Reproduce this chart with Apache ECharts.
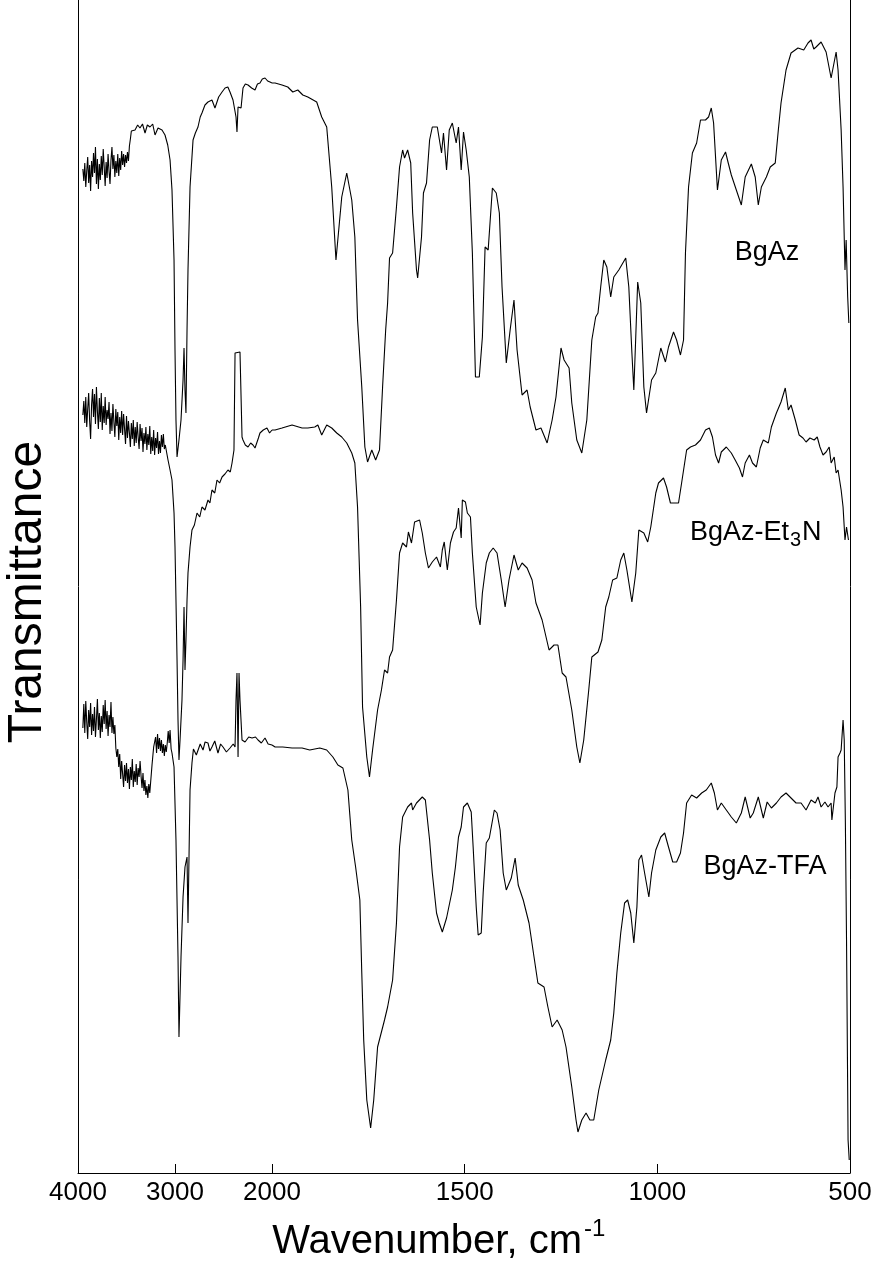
<!DOCTYPE html>
<html><head><meta charset="utf-8">
<script src="https://cdn.jsdelivr.net/npm/echarts@6/dist/echarts.min.js"></script>
<style>html,body{margin:0;padding:0;background:#fff}#c{width:880px;height:1274px}</style>
</head><body><div id="c"></div><script>
// Tick labels for the two x-axis segments (scale changes at 2000 cm-1)
const xTicksHigh = [4000, 3000, 2000];
const xTicksLow = [1500, 1000, 500];
const seriesNames = ['BgAz', 'BgAz-Et3N', 'BgAz-TFA'];

// [wavenumber (cm-1), transmittance (arb., offset traces)]
const bgazHigh = [[3950,100.4],[3940,99.2],[3930,101.0],[3920,98.6],[3910,100.2],[3900,101.6],[3890,99.0],[3880,100.8],[3870,98.2],[3860,101.2],[3850,99.6],[3840,102.0],[3830,100.0],[3820,102.6],[3810,98.9],[3800,101.4],[3790,98.4],[3780,100.9],[3770,99.3],[3760,101.7],[3750,99.8],[3740,102.4],[3730,100.6],[3720,98.7],[3710,101.1],[3700,99.5],[3690,101.9],[3680,100.2],[3670,98.9],[3660,101.3],[3650,102.6],[3640,100.4],[3630,101.8],[3620,99.6],[3610,101.2],[3600,100.0],[3590,101.9],[3580,99.7],[3570,101.5],[3560,100.3],[3550,102.2],[3540,100.8],[3530,101.9],[3520,100.6],[3510,101.8],[3500,101.0],[3490,102.1],[3480,101.2],[3470,102.7],[3460,103.4],[3450,104.2],[3412,104.3],[3385,104.8],[3361,104.5],[3335,104.9],[3309,104.0],[3285,104.8],[3258,104.6],[3230,104.9],[3206,103.8],[3175,104.5],[3134,104.3],[3103,103.8],[3075,102.8],[3051,101.3],[3031,98.3],[3010,91.3],[3000,82.3],[2990,75.3],[2979,71.6],[2959,73.3],[2938,75.3],[2917,79.3],[2907,82.5],[2897,78.3],[2887,76.0],[2876,84.3],[2866,90.3],[2845,98.6],[2814,103.3],[2790,104.0],[2763,104.6],[2740,105.6],[2722,106.0],[2691,106.8],[2660,107.1],[2619,107.3],[2588,106.5],[2550,107.6],[2515,108.1],[2484,108.5],[2455,108.6],[2433,108.1],[2402,107.3],[2371,105.6],[2361,104.1],[2350,106.6],[2319,106.5],[2299,108.5],[2275,108.9],[2247,108.8],[2210,108.5],[2175,108.3],[2150,108.9],[2124,109.0],[2100,109.4],[2072,109.5],[2045,109.2],[2021,109.1],[2000,109.0]];
const bgazLow = [[2000,109.0],[1992,109.0],[1974,108.8],[1959,108.6],[1946,108.1],[1933,108.3],[1920,107.8],[1907,107.6],[1884,107.1],[1871,105.6],[1858,104.6],[1845,98.6],[1834,91.3],[1819,97.6],[1806,100.0],[1793,97.3],[1785,93.6],[1778,85.3],[1767,78.6],[1759,72.6],[1752,71.1],[1741,72.3],[1731,71.3],[1721,72.3],[1713,78.6],[1705,84.3],[1700,87.0],[1695,91.5],[1687,92.0],[1677,96.6],[1669,100.6],[1661,102.3],[1656,101.5],[1648,102.3],[1640,101.0],[1635,96.0],[1625,90.3],[1622,89.5],[1612,93.6],[1607,98.0],[1599,99.0],[1591,103.3],[1584,104.6],[1571,104.6],[1560,102.0],[1555,104.0],[1547,100.3],[1540,104.3],[1532,105.0],[1522,103.0],[1516,104.6],[1509,100.3],[1503,104.1],[1496,102.3],[1488,99.6],[1480,92.0],[1472,79.6],[1462,79.6],[1454,83.6],[1447,92.6],[1439,92.3],[1428,98.5],[1418,98.0],[1410,96.0],[1403,88.6],[1392,81.0],[1382,84.3],[1372,87.3],[1364,82.3],[1351,77.8],[1338,78.3],[1330,76.6],[1315,74.3],[1302,74.5],[1286,73.0],[1273,75.3],[1263,77.6],[1250,82.5],[1242,81.3],[1229,80.5],[1222,77.0],[1209,73.3],[1196,72.0],[1183,75.3],[1170,83.3],[1160,85.6],[1154,86.0],[1147,88.6],[1139,91.3],[1131,90.6],[1121,87.6],[1113,89.6],[1100,90.3],[1082,91.5],[1074,88.6],[1066,82.0],[1061,78.3],[1056,83.6],[1051,89.1],[1043,87.0],[1035,78.6],[1028,76.0],[1015,79.3],[1004,80.0],[991,82.5],[979,81.1],[971,82.6],[958,84.1],[950,83.3],[940,81.8],[932,83.3],[927,92.0],[919,98.6],[909,102.0],[898,103.0],[888,105.3],[875,105.3],[867,105.6],[860,106.5],[854,105.0],[844,98.3],[834,101.3],[823,102.1],[816,101.0],[808,99.8],[795,98.3],[782,96.8],[772,99.6],[756,100.9],[746,99.6],[738,96.8],[730,98.6],[717,99.6],[707,100.6],[694,101.0],[686,104.3],[679,107.0],[666,110.3],[653,112.0],[635,112.5],[620,112.3],[609,113.0],[601,113.3],[594,112.4],[588,112.6],[575,113.1],[562,112.1],[549,109.5],[536,112.1],[531,110.3],[523,104.3],[518,98.6],[513,90.3],[510,93.3],[506,87.6],[503,85.0]];

const et3nHigh = [[3950,75.8],[3940,77.2],[3930,75.0],[3920,77.6],[3910,74.6],[3900,76.4],[3890,78.0],[3880,75.2],[3870,73.4],[3860,76.8],[3850,78.4],[3840,75.6],[3830,77.9],[3820,74.9],[3810,78.6],[3800,76.2],[3790,74.4],[3780,77.5],[3770,75.1],[3760,78.0],[3750,74.3],[3740,76.7],[3730,75.0],[3720,77.6],[3710,74.8],[3700,76.3],[3690,75.4],[3680,77.1],[3670,73.9],[3660,76.0],[3650,74.2],[3640,76.9],[3630,75.1],[3620,73.6],[3610,76.4],[3600,74.7],[3590,76.1],[3580,73.3],[3570,75.6],[3560,74.0],[3550,76.2],[3540,73.8],[3530,75.9],[3520,74.4],[3510,72.9],[3500,75.7],[3490,73.5],[3480,75.2],[3470,74.0],[3460,72.6],[3450,75.0],[3440,73.4],[3430,75.3],[3420,72.7],[3410,74.6],[3400,73.0],[3390,75.1],[3380,73.6],[3370,72.4],[3360,74.9],[3350,73.2],[3340,74.5],[3330,72.1],[3320,74.0],[3310,72.9],[3300,74.6],[3290,72.3],[3280,73.9],[3270,72.8],[3260,74.7],[3250,71.9],[3240,73.6],[3230,72.2],[3220,74.3],[3210,71.8],[3200,73.5],[3190,72.5],[3180,74.1],[3170,71.9],[3160,73.2],[3150,72.0],[3140,73.8],[3130,72.6],[3120,73.9],[3110,72.4],[3100,72.8],[3072,71.3],[3051,70.3],[3031,69.3],[3010,66.0],[3000,62.6],[2990,57.3],[2979,51.3],[2969,45.3],[2959,41.3],[2948,43.3],[2938,45.3],[2928,47.3],[2917,51.3],[2907,56.6],[2897,50.3],[2887,53.3],[2876,57.3],[2866,60.0],[2845,62.6],[2825,64.3],[2800,64.8],[2773,66.0],[2745,65.6],[2722,66.6],[2691,66.3],[2660,67.3],[2640,67.0],[2619,68.3],[2590,68.0],[2567,69.3],[2540,69.0],[2515,69.6],[2485,69.9],[2454,70.3],[2430,70.1],[2412,71.0],[2392,72.3],[2381,82.0],[2330,82.1],[2309,73.6],[2299,73.3],[2275,72.8],[2247,72.6],[2220,73.0],[2196,72.8],[2175,72.5],[2155,72.3],[2140,73.5],[2124,74.0],[2090,74.3],[2052,74.5],[2025,74.0],[2000,74.3]];
const et3nLow = [[2000,74.3],[1992,74.3],[1974,74.5],[1948,74.8],[1922,74.5],[1907,74.5],[1889,74.6],[1881,74.8],[1871,73.8],[1858,74.8],[1845,74.5],[1832,74.0],[1819,73.6],[1806,73.0],[1793,72.0],[1785,71.0],[1778,66.6],[1770,56.6],[1765,46.6],[1754,41.6],[1747,39.6],[1739,42.3],[1726,46.3],[1716,48.3],[1708,50.3],[1700,50.0],[1695,51.6],[1687,52.3],[1677,57.3],[1669,62.0],[1661,63.0],[1651,62.6],[1646,64.1],[1638,63.0],[1630,65.1],[1617,65.3],[1610,64.0],[1602,62.0],[1594,60.5],[1584,61.1],[1573,61.6],[1563,60.6],[1558,62.3],[1553,63.1],[1545,60.3],[1537,63.0],[1529,64.1],[1522,64.5],[1516,66.5],[1509,63.5],[1506,67.3],[1498,67.1],[1493,66.0],[1485,65.6],[1480,62.0],[1470,56.6],[1460,54.8],[1454,58.0],[1444,61.0],[1436,62.0],[1426,62.5],[1416,62.0],[1405,59.3],[1395,56.6],[1385,59.3],[1372,61.8],[1361,60.3],[1351,61.0],[1338,60.5],[1325,59.3],[1315,57.0],[1299,55.3],[1281,52.3],[1268,52.8],[1258,52.8],[1247,50.0],[1237,49.6],[1222,46.3],[1209,42.6],[1201,41.0],[1191,43.3],[1178,48.3],[1170,51.6],[1154,52.1],[1144,53.3],[1134,56.6],[1126,57.6],[1116,59.3],[1105,59.5],[1095,61.3],[1087,62.0],[1079,60.3],[1066,57.1],[1056,60.0],[1048,64.3],[1035,64.0],[1025,63.1],[1017,64.6],[1004,68.0],[997,69.0],[984,69.5],[976,68.6],[966,67.0],[945,67.0],[937,69.0],[924,72.3],[914,72.6],[901,72.8],[888,73.3],[875,74.3],[865,74.5],[857,73.6],[849,71.8],[841,71.0],[834,72.1],[821,72.6],[808,72.0],[798,71.3],[787,70.5],[779,69.6],[772,71.0],[761,71.8],[753,71.0],[743,70.6],[733,72.5],[725,73.3],[712,73.0],[704,74.6],[691,76.0],[679,77.1],[668,78.5],[660,76.3],[653,76.8],[642,75.3],[632,73.8],[622,73.5],[614,73.1],[604,73.5],[593,73.3],[585,73.6],[578,72.6],[570,71.8],[562,72.1],[554,72.6],[549,71.0],[541,71.6],[536,70.0],[531,70.3],[523,68.3],[518,66.6],[513,63.3],[509,64.6],[504,63.3]];

const tfaHigh = [[3950,44.5],[3940,46.9],[3930,44.0],[3920,47.2],[3910,45.1],[3900,43.4],[3890,46.3],[3880,44.6],[3870,47.0],[3860,43.8],[3850,45.9],[3840,44.2],[3830,46.6],[3820,43.6],[3810,45.4],[3800,47.4],[3790,44.3],[3780,46.0],[3770,43.5],[3760,45.7],[3750,44.1],[3740,46.8],[3730,44.9],[3720,47.3],[3710,44.4],[3700,46.2],[3690,43.7],[3680,45.8],[3670,44.6],[3660,47.1],[3650,44.0],[3640,45.6],[3630,43.9],[3620,44.8],[3610,42.5],[3600,41.6],[3590,42.4],[3580,40.6],[3570,41.9],[3560,39.4],[3550,41.2],[3540,39.9],[3530,38.6],[3520,40.8],[3510,39.2],[3500,41.0],[3490,39.0],[3480,40.4],[3470,38.4],[3460,40.6],[3450,39.3],[3440,41.4],[3430,38.6],[3420,40.2],[3410,39.1],[3400,40.9],[3390,38.8],[3380,40.5],[3370,39.6],[3360,41.2],[3350,39.7],[3340,38.5],[3330,40.0],[3320,38.2],[3310,39.3],[3300,37.8],[3290,38.7],[3280,37.5],[3270,38.9],[3260,38.0],[3237,40.8],[3220,42.6],[3200,43.6],[3190,42.0],[3180,43.9],[3170,42.4],[3160,43.5],[3150,42.2],[3140,43.3],[3130,42.0],[3120,42.9],[3110,41.7],[3100,42.8],[3090,42.1],[3080,43.0],[3070,44.2],[3060,43.0],[3051,44.3],[3040,42.4],[3031,42.0],[3010,40.6],[2990,33.3],[2969,21.6],[2959,13.6],[2938,21.6],[2917,27.6],[2897,30.6],[2876,31.6],[2866,25.0],[2845,38.3],[2825,41.0],[2810,42.4],[2794,42.6],[2780,41.8],[2763,42.0],[2740,42.9],[2711,42.3],[2690,43.1],[2660,43.0],[2640,42.2],[2619,42.6],[2590,43.2],[2557,42.0],[2530,42.9],[2505,42.6],[2470,42.1],[2433,42.5],[2400,42.9],[2381,42.6],[2371,47.3],[2361,50.0],[2350,41.6],[2340,50.0],[2330,47.3],[2309,43.3],[2278,43.1],[2240,43.6],[2206,43.5],[2170,43.6],[2144,43.3],[2110,43.0],[2072,43.5],[2040,42.9],[2000,42.8]];
const tfaLow = [[2000,42.8],[1992,42.6],[1972,42.6],[1948,42.5],[1922,42.5],[1902,42.3],[1876,42.5],[1858,42.3],[1842,41.6],[1829,40.8],[1816,40.5],[1803,38.3],[1793,33.3],[1783,30.6],[1772,27.3],[1767,20.0],[1762,13.3],[1754,7.3],[1744,4.5],[1736,7.3],[1726,12.6],[1708,15.3],[1700,16.6],[1687,19.3],[1677,25.0],[1669,32.6],[1661,35.6],[1648,36.6],[1638,37.0],[1635,36.3],[1625,37.0],[1610,37.6],[1602,37.3],[1591,33.3],[1584,30.0],[1573,26.0],[1566,25.0],[1558,24.1],[1547,25.5],[1542,25.3],[1532,28.3],[1524,30.6],[1516,33.6],[1509,34.6],[1503,36.6],[1493,37.0],[1483,36.1],[1478,32.6],[1470,26.6],[1465,23.8],[1457,24.0],[1452,28.0],[1444,33.0],[1436,33.5],[1423,36.3],[1416,36.0],[1408,34.3],[1400,30.0],[1392,28.3],[1379,29.5],[1369,31.5],[1361,28.8],[1348,27.3],[1333,25.0],[1320,21.6],[1310,19.0],[1294,18.6],[1284,16.6],[1273,14.6],[1260,15.3],[1247,14.3],[1237,12.6],[1222,8.6],[1211,5.3],[1206,4.1],[1196,5.3],[1185,6.0],[1175,5.3],[1165,5.3],[1152,8.3],[1134,11.3],[1121,13.3],[1113,16.0],[1105,20.0],[1095,24.0],[1085,27.0],[1077,27.3],[1069,26.0],[1061,23.0],[1053,26.6],[1048,31.3],[1041,31.8],[1033,30.0],[1022,27.6],[1015,30.0],[1004,32.3],[991,33.6],[981,34.0],[971,32.6],[960,31.1],[950,31.1],[940,32.0],[932,34.0],[924,37.0],[911,37.8],[898,37.5],[885,38.0],[873,38.3],[860,39.0],[852,38.0],[844,36.3],[834,37.0],[821,36.3],[808,35.6],[795,35.0],[782,36.0],[772,37.6],[759,35.5],[751,36.0],[738,37.6],[725,35.5],[715,37.1],[704,36.5],[691,37.0],[679,37.6],[666,38.0],[653,37.5],[640,37.0],[627,37.0],[614,36.3],[601,37.3],[590,37.0],[583,37.6],[575,36.6],[565,37.1],[557,36.6],[549,37.0],[547,35.3],[539,38.0],[534,38.6],[531,41.6],[526,42.0],[523,42.3],[518,45.3],[515,43.3],[512,35.0],[509,23.3],[505,3.3],[502,1.3]];

const font = '"Liberation Sans", Arial, Helvetica, sans-serif';
const black = '#000';
const chart = echarts.init(document.getElementById('c'), null, {renderer: 'canvas'});

function axisX(gi, min, max, interval, ticks) {
  return {
    type: 'value', gridIndex: gi, min: min, max: max, interval: interval, inverse: true,
    axisLine: {show: true, onZero: false, lineStyle: {color: black, width: 1}},
    axisTick: {show: true, inside: true, length: 9, lineStyle: {color: black, width: 1}},
    axisLabel: {show: true, color: black, fontSize: 26, fontFamily: font, margin: 7,
      formatter: v => ticks.includes(v) ? String(v) : ''},
    splitLine: {show: false}
  };
}
function axisY(gi, pos) {
  return {
    type: 'value', gridIndex: gi, min: 0, max: 117.3, position: pos,
    axisLine: {show: true, onZero: false, lineStyle: {color: black, width: 1}},
    axisTick: {show: false}, axisLabel: {show: false}, splitLine: {show: false}
  };
}
function line(name, data, idx) {
  return {type: 'line', name: name, data: data, xAxisIndex: idx, yAxisIndex: idx,
    showSymbol: false, symbol: 'none', silent: true, animation: false,
    lineStyle: {color: '#000', width: 1.1}};
}

const option = {
  animation: false,
  backgroundColor: '#fff',
  grid: [
    {left: 78, top: 0, width: 194, height: 1173},
    {left: 272, top: 0, width: 578, height: 1173}
  ],
  xAxis: [axisX(0, 2000, 4000, 1000, xTicksHigh), axisX(1, 500, 2000, 500, xTicksLow)],
  yAxis: [axisY(0, 'left'), axisY(1, 'right')],
  series: [
    line(seriesNames[0], bgazHigh, 0), line(seriesNames[0], bgazLow, 1),
    line(seriesNames[1], et3nHigh, 0), line(seriesNames[1], et3nLow, 1),
    line(seriesNames[2], tfaHigh, 0), line(seriesNames[2], tfaLow, 1)
  ],
  graphic: [
    {type: 'text', x: 28, y: 592, rotation: Math.PI / 2,
      style: {text: 'Transmittance', fontSize: 48, fontFamily: font, fill: black, align: 'center', verticalAlign: 'middle'}},
    {type: 'text', x: 582, y: 1242,
      style: {text: 'Wavenumber, cm', fontSize: 40, fontFamily: font, fill: black, align: 'right', verticalAlign: 'middle'}},
    {type: 'text', x: 584, y: 1229,
      style: {text: '-1', fontSize: 24, fontFamily: font, fill: black, align: 'left', verticalAlign: 'middle'}},
    {type: 'text', x: 767, y: 253,
      style: {text: 'BgAz', fontSize: 27, fontFamily: font, fill: black, align: 'center', verticalAlign: 'middle'}},
    {type: 'text', x: 690, y: 533,
      style: {text: 'BgAz-Et', fontSize: 27, fontFamily: font, fill: black, align: 'left', verticalAlign: 'middle'}},
    {type: 'text', x: 790, y: 540,
      style: {text: '3', fontSize: 20, fontFamily: font, fill: black, align: 'left', verticalAlign: 'middle'}},
    {type: 'text', x: 802, y: 533,
      style: {text: 'N', fontSize: 27, fontFamily: font, fill: black, align: 'left', verticalAlign: 'middle'}},
    {type: 'text', x: 765, y: 867,
      style: {text: 'BgAz-TFA', fontSize: 27, fontFamily: font, fill: black, align: 'center', verticalAlign: 'middle'}}
  ]
};
chart.setOption(option);
</script></body></html>
